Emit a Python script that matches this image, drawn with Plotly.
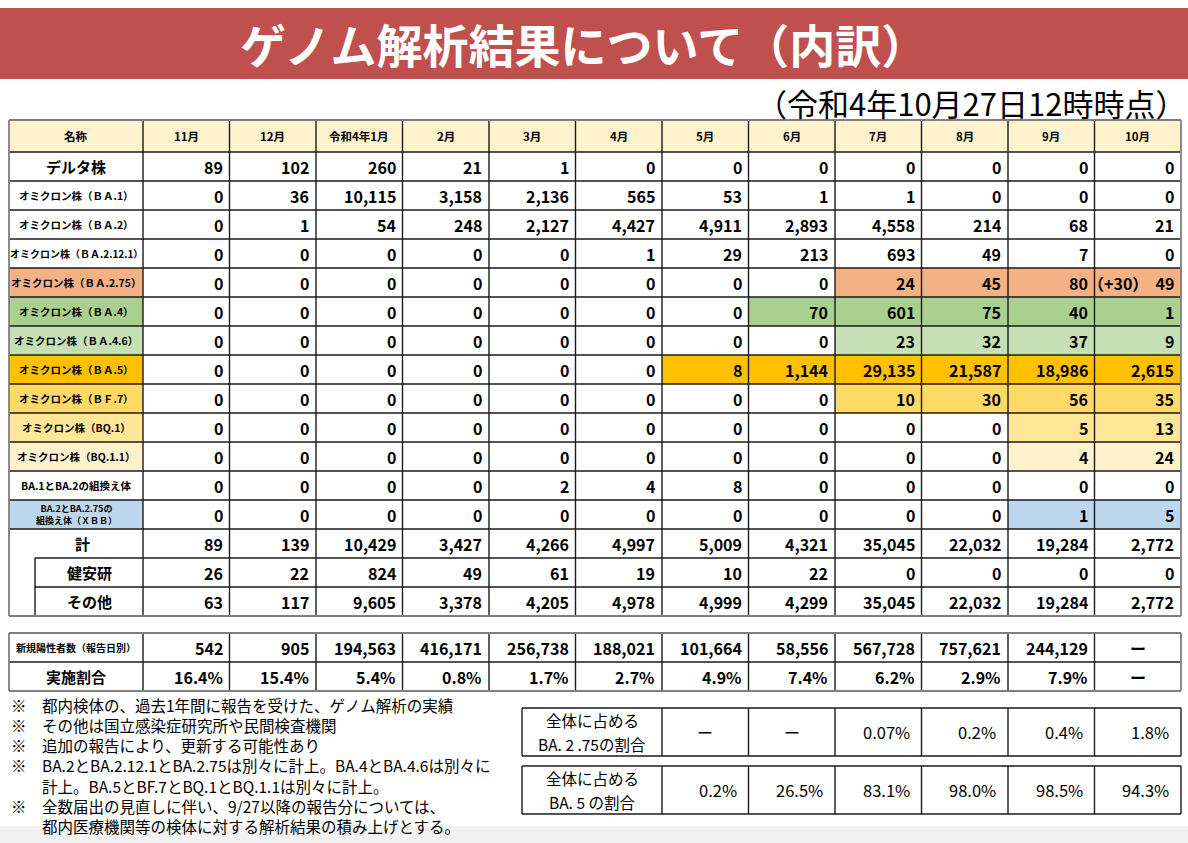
import plotly.graph_objects as go

# ---- data -------------------------------------------------------------
months = ['11月', '12月', '令和4年1月', '2月', '3月', '4月', '5月', '6月',
          '7月', '8月', '9月', '10月']

strain_labels = ['デルタ株', 'オミクロン株（ＢＡ.1）', 'オミクロン株（ＢＡ.2）',
                 'オミクロン株（ＢＡ.2.12.1）', 'オミクロン株（ＢＡ.2.75）',
                 'オミクロン株（ＢＡ.4）', 'オミクロン株（ＢＡ.4.6）',
                 'オミクロン株（ＢＡ.5）', 'オミクロン株（ＢＦ.7）',
                 'オミクロン株（BQ.1）', 'オミクロン株（BQ.1.1）',
                 'BA.1とBA.2の組換え体', 'BA.2とBA.2.75の<br>組換え体（ＸＢＢ）']

delta = [89, 102, 260, 21, 1, 0, 0, 0, 0, 0, 0, 0]
ba1 = [0, 36, 10115, 3158, 2136, 565, 53, 1, 1, 0, 0, 0]
ba2 = [0, 1, 54, 248, 2127, 4427, 4911, 2893, 4558, 214, 68, 21]
ba2_12_1 = [0, 0, 0, 0, 0, 1, 29, 213, 693, 49, 7, 0]
ba2_75 = [0, 0, 0, 0, 0, 0, 0, 0, 24, 45, 80, 49]
ba4 = [0, 0, 0, 0, 0, 0, 0, 70, 601, 75, 40, 1]
ba4_6 = [0, 0, 0, 0, 0, 0, 0, 0, 23, 32, 37, 9]
ba5 = [0, 0, 0, 0, 0, 0, 8, 1144, 29135, 21587, 18986, 2615]
bf7 = [0, 0, 0, 0, 0, 0, 0, 0, 10, 30, 56, 35]
bq1 = [0, 0, 0, 0, 0, 0, 0, 0, 0, 0, 5, 13]
bq1_1 = [0, 0, 0, 0, 0, 0, 0, 0, 0, 0, 4, 24]
ba1_ba2_recomb = [0, 0, 0, 0, 2, 4, 8, 0, 0, 0, 0, 0]
xbb = [0, 0, 0, 0, 0, 0, 0, 0, 0, 0, 1, 5]
ba2_75_note = '（+30）'   # extra note in the Oct BA.2.75 cell

total_labels = ['計', '健安研', 'その他']
total = [89, 139, 10429, 3427, 4266, 4997, 5009, 4321, 35045, 22032, 19284, 2772]
kenanken = [26, 22, 824, 49, 61, 19, 10, 22, 0, 0, 0, 0]
others = [63, 117, 9605, 3378, 4205, 4978, 4999, 4299, 35045, 22032, 19284, 2772]

new_cases_label = '新規陽性者数（報告日別）'
new_cases = [542, 905, 194563, 416171, 256738, 188021, 101664, 58556,
             567728, 757621, 244129, None]
rate_label = '実施割合'
rate = [16.4, 15.4, 5.4, 0.8, 1.7, 2.7, 4.9, 7.4, 6.2, 2.9, 7.9, None]

share_months = ['5月', '6月', '7月', '8月', '9月', '10月']
share_labels = [('全体に占める', 'BA. 2 .75の割合'), ('全体に占める', 'BA. 5 の割合')]
ba2_75_share = [None, None, 0.07, 0.2, 0.4, 1.8]
ba5_share = [0.2, 26.5, 83.1, 98.0, 98.5, 94.3]

notes = ['都内検体の、過去1年間に報告を受けた、ゲノム解析の実績',
         'その他は国立感染症研究所や民間検査機関',
         '追加の報告により、更新する可能性あり',
         'BA.2とBA.2.12.1とBA.2.75は別々に計上。BA.4とBA.4.6は別々に',
         '計上。BA.5とBF.7とBQ.1とBQ.1.1は別々に計上。',
         '全数届出の見直しに伴い、9/27以降の報告分については、',
         '都内医療機関等の検体に対する解析結果の積み上げとする。']
note_marks = [True, True, True, True, False, True, False]

title = 'ゲノム解析結果について（内訳）'
subtitle = '（令和4年10月27日12時時点）'

strain_rows = [delta, ba1, ba2, ba2_12_1, ba2_75, ba4, ba4_6, ba5, bf7, bq1,
               bq1_1, ba1_ba2_recomb, xbb]
total_rows = [total, kenanken, others]

# ---- styles -----------------------------------------------------------
FONT = 'Noto Sans CJK JP'
W, H = 1188, 843
COLW, ROWH = 86.5, 29.0          # px per month column / per row
X0, Y0 = 143, 152                # px of month col 0 left edge / row 0 top


def lx(px):
    return (px - X0) / COLW


def ly(py):
    return (py - Y0) / ROWH


# (row index in strain_rows, first coloured month, colour)
row_fill = {4: (8, '#F4B183'), 5: (7, '#A9D08E'), 6: (8, '#C5E0B4'),
            7: (6, '#FFC000'), 8: (8, '#FFD966'), 9: (10, '#FFE699'),
            10: (10, '#FFF2CC'), 12: (10, '#BDD7EE')}
HEAD_FILL = '#FFF2CC'
LINE = '#1a1a1a'
BORDER = '#7f7f7f'

shapes = []
ann = []


def rect(x0, x1, y0, y1, fill, layer='below'):
    shapes.append(dict(type='rect', x0=x0, x1=x1, y0=y0, y1=y1, xref='x', yref='y',
                       fillcolor=fill, line=dict(width=0), layer=layer))


def line(x0, x1, y0, y1, color=LINE, width=1.4):
    shapes.append(dict(type='line', x0=x0, x1=x1, y0=y0, y1=y1, xref='x', yref='y',
                       line=dict(color=color, width=width)))


def text(x, y, s, size, anchor='center', bold=True, color='black', xshift=0):
    ann.append(dict(x=x, y=y, xref='x', yref='y', text=f'<b>{s}</b>' if bold else s,
                    showarrow=False, xanchor=anchor, yanchor='middle', xshift=xshift,
                    font=dict(family=FONT, size=size, color=color)))


# ---- background pieces ------------------------------------------------
shapes.append(dict(type='rect', xref='paper', yref='paper', x0=0, x1=1,
                   y0=1 - 79 / H, y1=1 - 8 / H, fillcolor='#C0504D',
                   line=dict(width=0), layer='below'))
shapes.append(dict(type='rect', xref='paper', yref='paper', x0=0, x1=1,
                   y0=0, y1=17 / H, fillcolor='#F2F2F2',
                   line=dict(width=0), layer='below'))
ann.append(dict(xref='paper', yref='paper', x=583 / W, y=1 - 43 / H, text=f'<b>{title}</b>',
                xanchor='center', yanchor='middle', showarrow=False,
                font=dict(family=FONT, size=46, color='white')))
ann.append(dict(xref='paper', yref='paper', x=1, y=1 - 102 / H, text=subtitle,
                xanchor='right', yanchor='middle', showarrow=False,
                font=dict(family=FONT, size=31, color='black')))

# ---- main table -------------------------------------------------------
left = lx(9)
top = ly(120)
ncol = len(months)
n_strain = len(strain_rows)
bottom = n_strain + len(total_rows)

rect(left, ncol, top, 0, HEAD_FILL)
for r, (start, col) in row_fill.items():
    rect(left, 0, r, r + 1, col)
    rect(start, ncol, r, r + 1, col)

text((left + 0) / 2, top / 2, '名称', 11.5)
for i, m in enumerate(months):
    text(i + 0.5, top / 2, m, 11.5)

for r, (lab, vals) in enumerate(zip(strain_labels, strain_rows)):
    size = 15 if r == 0 else (9 if r == 12 else (10 if r == 3 else 10.5))
    text(left / 2, r + 0.5, lab, size)
    for i, v in enumerate(vals):
        s = f'{v:,}'
        if vals is ba2_75 and i == ncol - 1:
            s = ba2_75_note + '\u00a0\u00a0' + s
        text(i + 1, r + 0.5, s, 16, anchor='right', xshift=-5)

sub_left = lx(35)
for k, (lab, vals) in enumerate(zip(total_labels, total_rows)):
    r = n_strain + k
    cx = left / 2 + 0.08 if k == 0 else sub_left / 2
    text(cx, r + 0.5, lab, 15)
    for i, v in enumerate(vals):
        text(i + 1, r + 0.5, f'{v:,}', 16, anchor='right', xshift=-5)

# grid lines
for r in range(0, n_strain + 1):
    line(left, ncol, r, r)
for r in range(n_strain + 1, bottom):
    line(sub_left, ncol, r, r)
for i in range(0, ncol):
    line(i, i, top, bottom)
line(sub_left, sub_left, n_strain + 1, bottom)
line(left, ncol, top, top, BORDER, 1.8)
line(left, ncol, bottom, bottom, BORDER, 1.8)
line(left, left, top, bottom, BORDER, 1.8)
line(ncol, ncol, top, bottom, BORDER, 1.8)

# ---- new cases table --------------------------------------------------
t2 = ly(633)
text(left / 2, t2 + 0.5, new_cases_label, 10)
text(left / 2, t2 + 1.5, rate_label, 15)
for i in range(ncol):
    nv, rv = new_cases[i], rate[i]
    if nv is None:
        text(i + 0.5, t2 + 0.5, 'ー', 16)
    else:
        text(i + 1, t2 + 0.5, f'{nv:,}', 16, anchor='right', xshift=-5)
    if rv is None:
        text(i + 0.5, t2 + 1.5, 'ー', 16)
    else:
        text(i + 1, t2 + 1.5, f'{rv}%', 16, anchor='right', xshift=-5)
line(left, ncol, t2 + 1, t2 + 1)
for i in range(0, ncol):
    line(i, i, t2, t2 + 2)
for yy in (t2, t2 + 2):
    line(left, ncol, yy, yy, BORDER, 1.8)
for xx in (left, ncol):
    line(xx, xx, t2, t2 + 2, BORDER, 1.8)

# ---- notes (one block, ~20px line pitch) ------------------------------
note_lines = [('※\u3000' if m else '\u3000\u3000') + s for s, m in zip(notes, note_marks)]
ann.append(dict(x=lx(9), y=ly(705 + 20 * 3), xref='x', yref='y',
                text='<br>'.join(note_lines), showarrow=False, align='left',
                xanchor='left', yanchor='middle',
                font=dict(family=FONT, size=15.5, color='black')))

# ---- share boxes ------------------------------------------------------
first = months.index(share_months[0])
box_left = lx(522)
for (y0px, y1px), (lab1, lab2), vals in zip([(708, 756), (766, 814)], share_labels,
                                            [ba2_75_share, ba5_share]):
    b0, b1 = ly(y0px), ly(y1px)
    mid = (b0 + b1) / 2
    cx = (box_left + first) / 2
    text(cx, mid - 0.40, lab1, 15.5, bold=False)
    text(cx, mid + 0.40, lab2, 15.5, bold=False)
    for j, v in enumerate(vals):
        i = first + j
        if v is None:
            text(i + 0.5, mid, 'ー', 16, bold=False)
        else:
            text(i + 1, mid, f'{v}%', 16.5, anchor='right', bold=False, xshift=-10)
        line(i, i, b0, b1)
    for yy in (b0, b1):
        line(box_left, ncol, yy, yy)
    for xx in (box_left, ncol):
        line(xx, xx, b0, b1)

fig = go.Figure()
fig.update_layout(
    width=W, height=H,
    margin=dict(l=0, r=0, t=0, b=0),
    paper_bgcolor='white', plot_bgcolor='white',
    xaxis=dict(range=[lx(0), lx(W)], visible=False, fixedrange=True),
    yaxis=dict(range=[ly(H), ly(0)], visible=False, fixedrange=True),
    shapes=shapes, annotations=ann, showlegend=False,
)
fig.write_html('out.html', config={'displayModeBar': False},
               post_script="document.body.style.margin='0';")
